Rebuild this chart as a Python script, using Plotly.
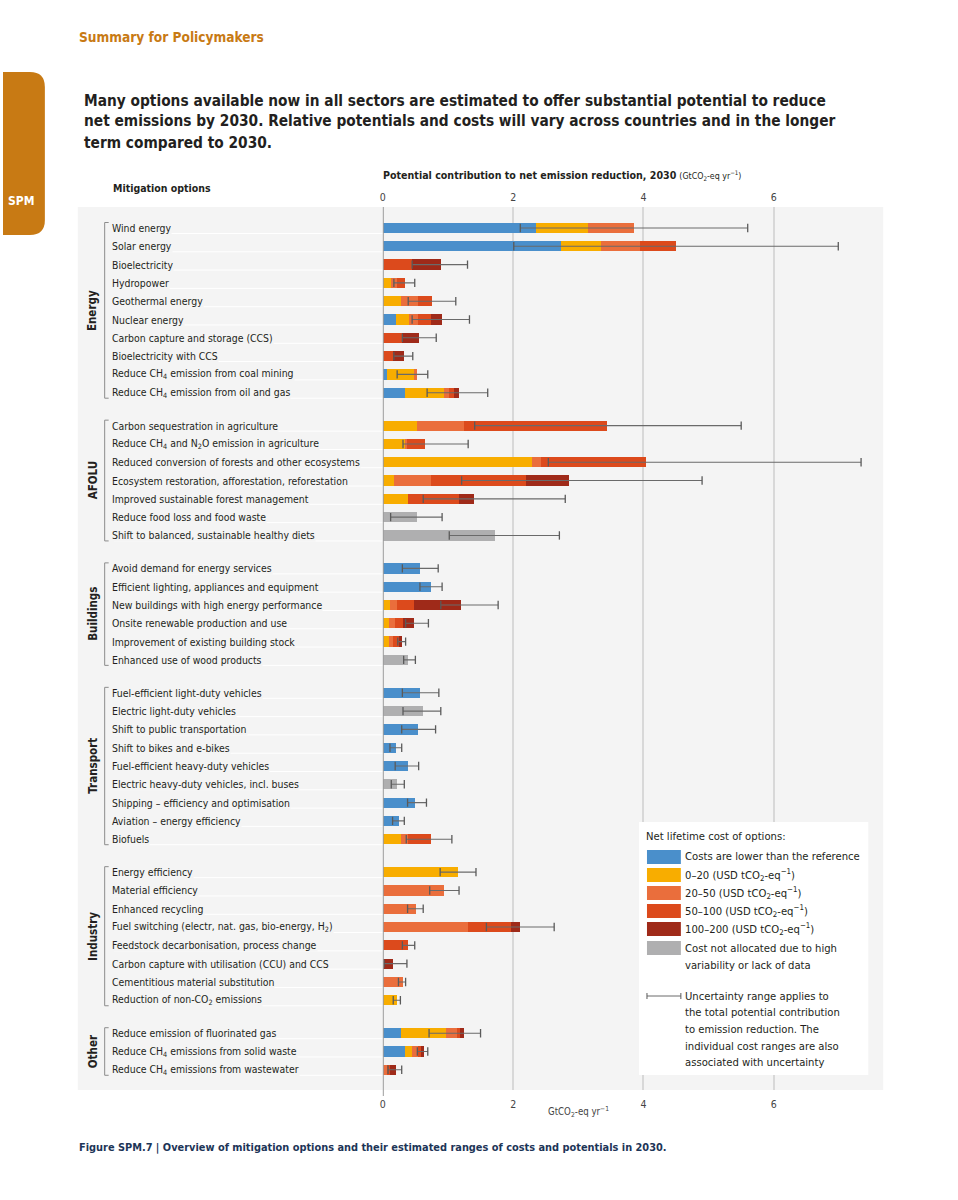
import plotly.graph_objects as go

W, H = 958, 1200

# ---------------- data ----------------
sectors = ["Energy", "AFOLU", "Buildings", "Transport", "Industry", "Other"]
sector_sizes = [10, 7, 6, 9, 8, 3]

options = [
    "Wind energy", "Solar energy", "Bioelectricity", "Hydropower", "Geothermal energy",
    "Nuclear energy", "Carbon capture and storage (CCS)", "Bioelectricity with CCS",
    "Reduce CH<sub>4</sub> emission from coal mining", "Reduce CH<sub>4</sub> emission from oil and gas",
    "Carbon sequestration in agriculture",
    "Reduce CH<sub>4</sub> and N<sub>2</sub>O emission in agriculture",
    "Reduced conversion of forests and other ecosystems",
    "Ecosystem restoration, afforestation, reforestation",
    "Improved sustainable forest management", "Reduce food loss and food waste",
    "Shift to balanced, sustainable healthy diets",
    "Avoid demand for energy services", "Efficient lighting, appliances and equipment",
    "New buildings with high energy performance", "Onsite renewable production and use",
    "Improvement of existing building stock", "Enhanced use of wood products",
    "Fuel-efficient light-duty vehicles", "Electric light-duty vehicles",
    "Shift to public transportation", "Shift to bikes and e-bikes",
    "Fuel-efficient heavy-duty vehicles", "Electric heavy-duty vehicles, incl. buses",
    "Shipping – efficiency and optimisation", "Aviation – energy efficiency", "Biofuels",
    "Energy efficiency", "Material efficiency", "Enhanced recycling",
    "Fuel switching (electr, nat. gas, bio-energy, H<sub>2</sub>)",
    "Feedstock decarbonisation, process change",
    "Carbon capture with utilisation (CCU) and CCS", "Cementitious material substitution",
    "Reduction of non-CO<sub>2</sub> emissions",
    "Reduce emission of fluorinated gas", "Reduce CH<sub>4</sub> emissions from solid waste",
    "Reduce CH<sub>4</sub> emissions from wastewater",
]

# segment widths (GtCO2-eq/yr) per cost class
cost_lower = [2.35, 2.73, 0, 0, 0, 0.20, 0, 0, 0.06, 0.33,
              0, 0, 0, 0, 0, 0, 0,
              0.57, 0.74, 0, 0, 0, 0,
              0.57, 0, 0.54, 0.20, 0.38, 0, 0.49, 0.24, 0,
              0, 0, 0, 0, 0, 0, 0, 0,
              0.27, 0.34, 0]
cost_0_20 = [0.80, 0.61, 0, 0.13, 0.28, 0.20, 0, 0, 0.42, 0.61,
             0.52, 0.33, 2.29, 0.17, 0.39, 0, 0,
             0, 0, 0.10, 0.09, 0.09, 0,
             0, 0, 0, 0, 0, 0, 0, 0, 0.27,
             1.15, 0, 0, 0, 0, 0, 0, 0.21,
             0.70, 0.11, 0]
cost_20_50 = [0.70, 0.61, 0, 0.08, 0.25, 0.13, 0, 0, 0.04, 0.07,
              0.72, 0.04, 0.13, 0.57, 0, 0, 0,
              0, 0, 0.12, 0.09, 0.07, 0,
              0, 0, 0, 0, 0, 0, 0, 0, 0.11,
              0, 0.94, 0.50, 1.31, 0, 0, 0.30, 0,
              0.16, 0.08, 0.06]
cost_50_100 = [0, 0.55, 0.45, 0.13, 0.22, 0.21, 0.29, 0.16, 0, 0.08,
               2.20, 0.27, 1.62, 1.45, 0.78, 0, 0,
               0, 0, 0.26, 0.13, 0.08, 0,
               0, 0, 0, 0, 0, 0, 0, 0, 0.35,
               0, 0, 0, 0.65, 0.39, 0, 0, 0,
               0.05, 0.05, 0.04]
cost_100_200 = [0, 0, 0.44, 0, 0, 0.16, 0.27, 0.16, 0, 0.07,
                0, 0, 0, 0.66, 0.22, 0, 0,
                0, 0, 0.72, 0.17, 0.05, 0,
                0, 0, 0, 0, 0, 0, 0, 0, 0,
                0, 0, 0, 0.15, 0, 0.16, 0, 0,
                0.07, 0.05, 0.10]
cost_na = [0, 0, 0, 0, 0, 0, 0, 0, 0, 0,
           0, 0, 0, 0, 0, 0.52, 1.72,
           0, 0, 0, 0, 0, 0.39,
           0, 0.61, 0, 0, 0, 0.22, 0, 0, 0,
           0, 0, 0, 0, 0, 0, 0, 0,
           0, 0, 0]
err_lo = [2.11, 2.01, 0.45, 0.17, 0.39, 0.45, 0.30, 0.17, 0.22, 0.68,
          1.41, 0.31, 2.54, 1.21, 0.62, 0.12, 1.02,
          0.30, 0.57, 0.89, 0.35, 0.23, 0.32,
          0.30, 0.31, 0.29, 0.11, 0.19, 0.13, 0.38, 0.15, 0.36,
          0.88, 0.72, 0.38, 1.59, 0.30, 0.02, 0.24, 0.16,
          0.71, 0.53, 0.08]
err_hi = [5.60, 6.99, 1.30, 0.49, 1.12, 1.33, 0.82, 0.46, 0.69, 1.61,
          5.50, 1.31, 7.34, 4.90, 2.80, 0.91, 2.71,
          0.85, 0.91, 1.77, 0.70, 0.35, 0.50,
          0.86, 0.89, 0.81, 0.29, 0.55, 0.33, 0.67, 0.33, 1.06,
          1.43, 1.17, 0.62, 2.63, 0.49, 0.37, 0.35, 0.27,
          1.50, 0.69, 0.29]

x_ticks = [0, 2, 4, 6]

legend_labels = [
    ["Costs are lower than the reference"],
    ["0–20 (USD tCO<sub>2</sub>-eq<sup>−1</sup>)"],
    ["20–50 (USD tCO<sub>2</sub>-eq<sup>−1</sup>)"],
    ["50–100 (USD tCO<sub>2</sub>-eq<sup>−1</sup>)"],
    ["100–200 (USD tCO<sub>2</sub>-eq<sup>−1</sup>)"],
    ["Cost not allocated due to high", "variability or lack of data"],
]
uncert_note = [
    "Uncertainty range applies to",
    "the total potential contribution",
    "to emission reduction. The",
    "individual cost ranges are also",
    "associated with uncertainty",
]

# ---------------- style ----------------
FONT = "DejaVu Sans Condensed, Liberation Sans, sans-serif"
COLORS = ["#4a8fcb", "#f8ad00", "#ea6e3c", "#dc4a1c", "#9f2a19", "#afafb0"]
PANEL = "#f4f4f4"
TXT = "#231f20"
ORANGE = "#c87a14"
LAB_SIZE = 10.4


def px(x):
    return x / W


def py(y):
    return 1 - y / H


pos = []
row = 0
for g, n in enumerate(sector_sizes):
    for i in range(n):
        pos.append(row + g * 0.8)
        row += 1

ROW_PX = 18.3
Y0_PX = 228
PLOT_TOP, PLOT_BOT = 207, 1090
y_range = [(PLOT_BOT - Y0_PX) / ROW_PX, (PLOT_TOP - Y0_PX) / ROW_PX]

fig = go.Figure()

series = [cost_lower, cost_0_20, cost_20_50, cost_50_100, cost_100_200, cost_na]
for vals, col in zip(series, COLORS):
    fig.add_trace(go.Bar(
        x=vals, y=pos, orientation="h", marker=dict(color=col, line=dict(width=0)),
        width=0.56, showlegend=False, hoverinfo="skip"))

ex, ey = [], []
for lo, hi, p in zip(err_lo, err_hi, pos):
    ex += [lo, hi, None]
    ey += [p, p, None]
fig.add_trace(go.Scatter(
    x=ex, y=ey, mode="lines+markers",
    line=dict(color="#6a6a6a", width=1.1),
    marker=dict(symbol="line-ns-open", size=6, color="#5a5a5a", line=dict(width=1.3, color="#5a5a5a")),
    showlegend=False, hoverinfo="skip"))

fig.add_trace(go.Scatter(x=[0], y=[0], xaxis="x2", mode="markers",
                         marker=dict(opacity=0), showlegend=False, hoverinfo="skip"))

shapes = []
annotations = []

shapes.append(dict(type="rect", xref="paper", yref="paper",
                   x0=px(75), x1=px(883), y0=py(PLOT_BOT), y1=py(PLOT_TOP),
                   fillcolor=PANEL, line=dict(width=0), layer="below"))
shapes.append(dict(type="line", xref="x", yref="paper", x0=0, x1=0,
                   y0=py(1096), y1=py(PLOT_TOP),
                   line=dict(color="#9c9c9c", width=2), layer="above"))

for lab, p in zip(options, pos):
    shapes.append(dict(type="line", xref="paper", yref="y", x0=px(111), x1=px(381),
                       y0=p + 0.3, y1=p + 0.3, line=dict(color="#ffffff", width=1), layer="below"))
    annotations.append(dict(text=lab, x=px(108), y=p, xref="paper", yref="y",
                            xanchor="left", yanchor="middle", showarrow=False,
                            font=dict(family=FONT, size=LAB_SIZE, color=TXT), bgcolor=PANEL,
                            borderpad=0))

start = 0
for name, n in zip(sectors, sector_sizes):
    a, b = pos[start] - 0.3, pos[start + n - 1] + 0.3
    shapes.append(dict(type="path", xref="paper", yref="y",
                       path=f"M {px(106)} {a} L {px(102)} {a} L {px(102)} {b} L {px(106)} {b}",
                       line=dict(color="#8c8c8c", width=1)))
    annotations.append(dict(text=f"<b>{name}</b>", x=px(90), y=(pos[start] + pos[start + n - 1]) / 2,
                            xref="paper", yref="y", textangle=-90, showarrow=False,
                            xanchor="center", yanchor="middle",
                            font=dict(family=FONT, size=11.5, color=TXT)))
    start += n

annotations.append(dict(text="<b>Mitigation options</b>", x=px(108), y=py(188), xref="paper", yref="paper",
                        xanchor="left", yanchor="middle", showarrow=False,
                        font=dict(family=FONT, size=10.5, color=TXT)))
annotations.append(dict(
    text="<b>Potential contribution to net emission reduction, 2030</b> "
         "<span style='font-size:8.8px'>(GtCO<sub>2</sub>-eq yr<sup>−1</sup>)</span>",
    x=px(379), y=py(175), xref="paper", yref="paper", xanchor="left", yanchor="middle",
    showarrow=False, font=dict(family=FONT, size=10.6, color=TXT)))
annotations.append(dict(
    text="GtCO<sub>2</sub>-eq yr<sup>−1</sup>", x=px(577), y=py(1112), xref="paper", yref="paper",
    xanchor="center", yanchor="middle", showarrow=False,
    font=dict(family=FONT, size=9.6, color="#444")))

annotations.append(dict(text="<b>Summary for Policymakers</b>", x=px(74), y=py(37), xref="paper", yref="paper",
                        xanchor="left", yanchor="middle", showarrow=False,
                        font=dict(family=FONT, size=13.6, color=ORANGE)))
heading = [
    "Many options available now in all sectors are estimated to offer substantial potential to reduce",
    "net emissions by 2030. Relative potentials and costs will vary across countries and in the longer",
    "term compared to 2030.",
]
for line, yy in zip(heading, [101, 121, 143]):
    annotations.append(dict(text=f"<b>{line}</b>", x=px(79), y=py(yy), xref="paper", yref="paper",
                            xanchor="left", yanchor="middle", showarrow=False,
                            font=dict(family=FONT, size=15.3, color=TXT)))

annotations.append(dict(
    text="<b>Figure SPM.7 | Overview of mitigation options and their estimated ranges of costs and potentials in 2030.</b>",
    x=px(74), y=py(1147), xref="paper", yref="paper", xanchor="left", yanchor="middle",
    showarrow=False, font=dict(family=FONT, size=10.9, color="#1d3557")))

r = 15
tab = (f"M 0 {py(72)} L {px(42 - r)} {py(72)} Q {px(42)} {py(72)} {px(42)} {py(72 + r)} "
       f"L {px(42)} {py(235 - r)} Q {px(42)} {py(235)} {px(42 - r)} {py(235)} L 0 {py(235)} Z")
shapes.append(dict(type="path", xref="paper", yref="paper", path=tab,
                   fillcolor=ORANGE, line=dict(width=0)))
annotations.append(dict(text="<b>SPM</b>", x=px(18), y=py(201), xref="paper", yref="paper",
                        xanchor="center", yanchor="middle", showarrow=False,
                        font=dict(family=FONT, size=12, color="white")))

# legend
shapes.append(dict(type="rect", xref="paper", yref="paper", x0=px(638), x1=px(868),
                   y0=py(1075), y1=py(822), fillcolor="white", line=dict(width=0)))
annotations.append(dict(text="Net lifetime cost of options:", x=px(643), y=py(836), xref="paper", yref="paper",
                        xanchor="left", yanchor="middle", showarrow=False,
                        font=dict(family=FONT, size=11.2, color=TXT)))
leg_y = [857, 875, 893, 911, 929, 948]
for lines, col, yy in zip(legend_labels, COLORS, leg_y):
    shapes.append(dict(type="rect", xref="paper", yref="paper", x0=px(646), x1=px(680),
                       y0=py(yy + 7), y1=py(yy - 7), fillcolor=col, line=dict(width=0)))
    for k, t in enumerate(lines):
        annotations.append(dict(text=t, x=px(682), y=py(yy + 17 * k), xref="paper", yref="paper",
                                xanchor="left", yanchor="middle", showarrow=False,
                                font=dict(family=FONT, size=11.2, color=TXT)))
shapes.append(dict(type="line", xref="paper", yref="paper", x0=px(646), x1=px(680),
                   y0=py(996), y1=py(996), line=dict(color="#6a6a6a", width=1)))
for xx in (646, 680):
    shapes.append(dict(type="line", xref="paper", yref="paper", x0=px(xx), x1=px(xx),
                       y0=py(993), y1=py(999), line=dict(color="#5a5a5a", width=1)))
for k, t in enumerate(uncert_note):
    annotations.append(dict(text=t, x=px(682), y=py(996 + 16.7 * k), xref="paper", yref="paper",
                            xanchor="left", yanchor="middle", showarrow=False,
                            font=dict(family=FONT, size=11.2, color=TXT)))

fig.update_layout(
    width=W, height=H, margin=dict(l=0, r=0, t=0, b=0),
    paper_bgcolor="white", plot_bgcolor="rgba(0,0,0,0)",
    barmode="stack", bargap=0,
    font=dict(family=FONT, color=TXT),
    xaxis=dict(domain=[px(381), px(883)], range=[0, 7.68], tickvals=x_ticks,
               showgrid=True, gridcolor="#d8d8d8", gridwidth=1.5, zeroline=False,
               showline=False, ticks="", tickfont=dict(family=FONT, size=10.5, color="#444"),
               ticklabelstandoff=6, anchor="y", fixedrange=True),
    xaxis2=dict(overlaying="x", matches="x", side="top", tickvals=x_ticks, showgrid=False,
                zeroline=False, showline=False, ticks="", anchor="y", ticklabelstandoff=3,
                tickfont=dict(family=FONT, size=10.5, color="#444")),
    yaxis=dict(domain=[py(PLOT_BOT), py(PLOT_TOP)], range=y_range, showgrid=False,
               zeroline=False, showticklabels=False, ticks="", showline=False),
    shapes=shapes, annotations=annotations,
)

fig.write_html("out.html", config={"displayModeBar": False},
               post_script="document.body.style.margin='0';document.body.style.padding='0';")
